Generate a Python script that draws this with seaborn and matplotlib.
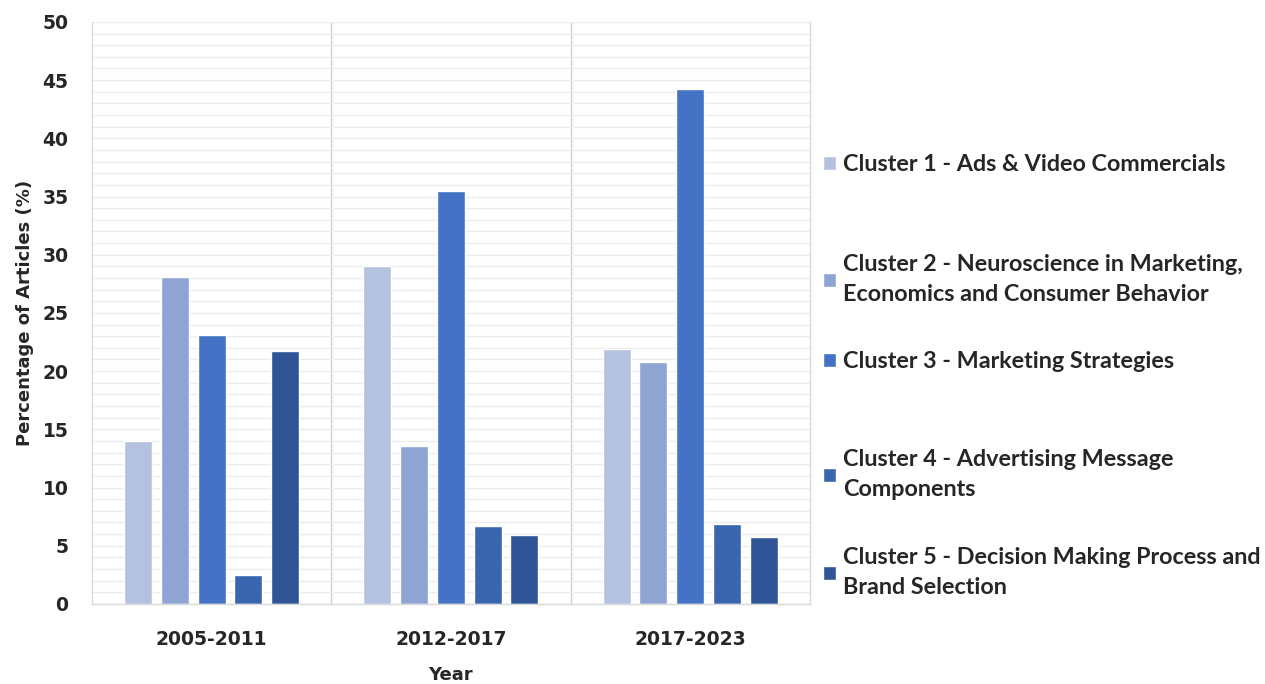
import matplotlib
matplotlib.use("Agg")
import matplotlib.pyplot as plt
import seaborn as sns
import pandas as pd
import numpy as np

periods = ["2005-2011", "2012-2017", "2017-2023"]
clusters = [
    "Cluster 1 - Ads & Video Commercials",
    "Cluster 2 - Neuroscience in Marketing,\nEconomics and Consumer Behavior",
    "Cluster 3 - Marketing Strategies",
    "Cluster 4 - Advertising Message\nComponents",
    "Cluster 5 - Decision Making Process and\nBrand Selection",
]
cluster1 = [14.0, 29.0, 21.9]
cluster2 = [28.1, 13.6, 20.8]
cluster3 = [23.1, 35.5, 44.2]
cluster4 = [2.5, 6.7, 6.85]
cluster5 = [21.7, 5.9, 5.75]
colors = ["#B4C2E0", "#8EA4D3", "#4472C4", "#3A66B0", "#2F5597"]

sns.set_theme(style="white")
plt.rcParams['font.family'] = ['DejaVu Sans']

rows = []
for name, vals in zip(clusters, [cluster1, cluster2, cluster3, cluster4, cluster5]):
    for p, v in zip(periods, vals):
        rows.append({"Year": p, "Cluster": name, "Value": v})
df = pd.DataFrame(rows)

fig = plt.figure(figsize=(12.65, 6.84), dpi=100)
ax = fig.add_axes([0.0727, 0.117, 0.5675, 0.851])

sns.barplot(data=df, x="Year", y="Value", hue="Cluster", palette=colors,
            width=0.768, gap=0.238, ax=ax, saturation=1, legend=True)

ax.set_ylim(0, 50)
ax.set_xlim(-0.5, 2.5)
ax.set_yticks(np.arange(0, 51, 5))
ax.set_yticks(np.arange(0, 51, 1), minor=True)
ax.yaxis.grid(True, which="both", color="#ECECEC", linewidth=1.0)
ax.set_axisbelow(True)
for x in [0.5, 1.5]:
    ax.axvline(x, color="#CFCFCF", linewidth=1.0, zorder=0.5)
ax.spines["top"].set_visible(False)
for s in ["left", "right", "bottom"]:
    ax.spines[s].set_color("#D9D9D9")
    ax.spines[s].set_linewidth(1.0)
ax.tick_params(axis="both", which="both", length=0)
ax.tick_params(axis="y", pad=17)
ax.tick_params(axis="x", pad=19)
for lab in ax.get_yticklabels() + ax.get_xticklabels():
    lab.set_fontweight("bold")
    lab.set_fontsize(13.5)
ax.set_ylabel("Percentage of Articles (%)", fontsize=13, fontweight="bold", labelpad=6)
ax.set_xlabel("Year", fontsize=13, fontweight="bold", labelpad=12)

handles, labels = ax.get_legend_handles_labels()
ax.legend_.remove()
first_line_centers = [163, 263, 360, 458, 556]
for h, lab, c in zip(handles, labels, first_line_centers):
    lg = fig.legend([h], [lab], loc="upper left",
                    bbox_to_anchor=(823 / 1265, 1 - (c - 9) / 684),
                    frameon=False, prop={"family": "Lato", "weight": "bold", "size": 16.8},
                    handlelength=0.56, handleheight=0.56, handletextpad=0.3,
                    borderpad=0, borderaxespad=0)
    for tx in lg.get_texts():
        tx.set_linespacing(1.55)

fig.savefig("out.png", dpi=100)
